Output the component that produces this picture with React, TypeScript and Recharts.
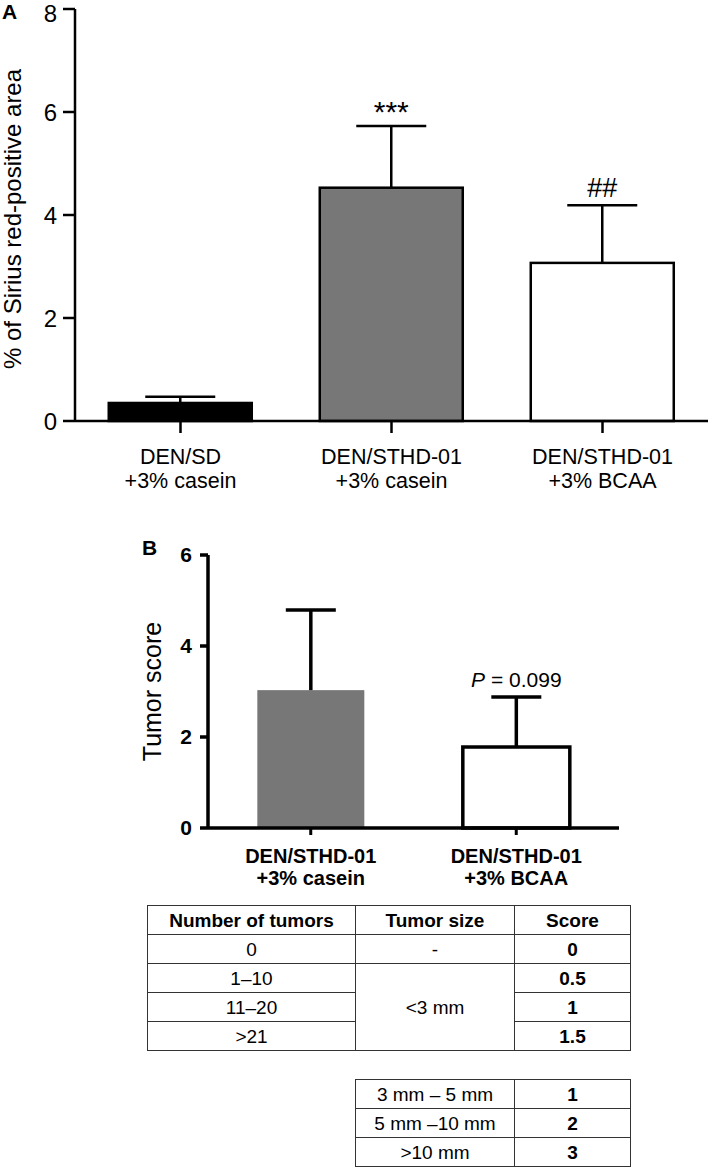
import { Bar, BarChart, XAxis, YAxis } from 'recharts';

const categoriesA = ['DEN/SD +3% casein', 'DEN/STHD-01 +3% casein', 'DEN/STHD-01 +3% BCAA'];
const meanA = [0.35, 4.53, 3.07];
const semA = [0.12, 1.2, 1.12];
const markA = ['', '***', '##'];
const ticksA = [0, 2, 4, 6, 8];

const categoriesB = ['DEN/STHD-01 +3% casein', 'DEN/STHD-01 +3% BCAA'];
const meanB = [3.03, 1.78];
const semB = [1.76, 1.1];
const markB = ['', 'P = 0.099'];
const ticksB = [0, 2, 4, 6];

const tableHead = ['Number of tumors', 'Tumor size', 'Score'];
const tumorCounts = ['0', '1–10', '11–20', '>21'];
const smallSizes = ['-', '<3 mm'];
const countScores = ['0', '0.5', '1', '1.5'];
const largeSizes = ['3 mm – 5 mm', '5 mm –10 mm', '>10 mm'];
const largeScores = ['1', '2', '3'];

const FONT = '"Liberation Sans", Arial, Helvetica, sans-serif';
const GREY = '#777777';

const dataA = categoriesA.map((name, i) => ({ name, mean: meanA[i], sem: semA[i], mark: markA[i] }));
const dataB = categoriesB.map((name, i) => ({ name, mean: meanB[i], sem: semB[i], mark: markB[i] }));

type ShapeOpts = {
  categories: string[];
  fills: string[];
  strokes: string[];
  lineWidth: number;
  capHalf: number;
  markSizes: number[];
  markGaps: number[];
};

function makeShape(o: ShapeOpts) {
  return (props: any) => {
    const { x, y, width, height, payload } = props;
    const i = o.categories.indexOf(payload.name);
    const perUnit = height / payload.mean;
    const errTop = y - payload.sem * perUnit;
    const cx = x + width / 2;
    const stroke = o.strokes[i];
    const mark: string = payload.mark;
    return (
      <g>
        <rect
          x={x}
          y={y}
          width={width}
          height={height}
          fill={o.fills[i]}
          stroke={stroke}
          strokeWidth={stroke === 'none' ? 0 : o.lineWidth}
        />
        <line x1={cx} x2={cx} y1={y} y2={errTop} stroke="#000" strokeWidth={o.lineWidth} />
        <line x1={cx - o.capHalf} x2={cx + o.capHalf} y1={errTop} y2={errTop} stroke="#000" strokeWidth={o.lineWidth} />
        {mark ? (
          <text
            x={cx}
            y={errTop - o.markGaps[i]}
            textAnchor="middle"
            fontSize={o.markSizes[i]}
            fontFamily={FONT}
            fill="#000"
          >
            {mark.startsWith('P') ? (
              <>
                <tspan fontStyle="italic">P</tspan>
                <tspan>{mark.slice(1)}</tspan>
              </>
            ) : (
              mark
            )}
          </text>
        ) : null}
      </g>
    );
  };
}

function TwoLineTick(props: any) {
  const { x, y, payload, size, weight, first, gap } = props;
  const parts = String(payload.value).split(' ');
  return (
    <text x={x} y={y} textAnchor="middle" fontSize={size} fontWeight={weight} fontFamily={FONT} fill="#000">
      <tspan x={x} dy={first}>{parts[0]}</tspan>
      <tspan x={x} dy={gap}>{parts.slice(1).join(' ')}</tspan>
    </text>
  );
}

const cell: React.CSSProperties = {
  border: '1.5px solid #333',
  height: 28,
  padding: 0,
  textAlign: 'center',
  verticalAlign: 'middle',
  fontSize: 19,
  lineHeight: '19px',
};

export default function App() {
  return (
    <div style={{ position: 'absolute', left: 0, top: 0, width: 709, height: 1167, background: '#fff', fontFamily: FONT }}>
      <div style={{ position: 'absolute', left: 2, top: 0, fontSize: 21, fontWeight: 700 }}>A</div>
      <div style={{ position: 'absolute', left: 142, top: 536, fontSize: 21, fontWeight: 700 }}>B</div>

      <div style={{ position: 'absolute', left: 0, top: 0 }}>
        <BarChart
          width={709}
          height={500}
          data={dataA}
          margin={{ top: 9, right: 1, left: 0, bottom: 0 }}
          barCategoryGap="16%"
        >
          <YAxis
            type="number"
            domain={[0, 8]}
            ticks={ticksA}
            width={75}
            tickSize={12}
            tickMargin={6}
            axisLine={{ stroke: '#000', strokeWidth: 2.5 }}
            tickLine={{ stroke: '#000', strokeWidth: 2.5 }}
            tick={{ fill: '#000', fontSize: 24, fontFamily: FONT }}
            label={{
              value: '% of Sirius red-positive area',
              angle: -90,
              position: 'center',
              dx: -25,
              dy: 4,
              style: { fill: '#000', fontSize: 24, fontFamily: FONT, textAnchor: 'middle' },
            }}
          />
          <XAxis
            dataKey="name"
            height={79}
            tickSize={12}
            tickMargin={0}
            interval={0}
            axisLine={{ stroke: '#000', strokeWidth: 2.5 }}
            tickLine={{ stroke: '#000', strokeWidth: 2.5 }}
            tick={<TwoLineTick size={21.5} weight={400} first={31} gap={23.5} />}
          />
          <Bar
            dataKey="mean"
            isAnimationActive={false}
            shape={makeShape({
              categories: categoriesA,
              fills: ['#000000', GREY, '#ffffff'],
              strokes: ['#000', '#000', '#000'],
              lineWidth: 2.5,
              capHalf: 35,
              markSizes: [24, 30, 27],
              markGaps: [8, 4, 8],
            })}
          />
        </BarChart>
      </div>

      <div style={{ position: 'absolute', left: 0, top: 530 }}>
        <BarChart
          width={620}
          height={370}
          data={dataB}
          margin={{ top: 25, right: 1, left: 0, bottom: 0 }}
          barCategoryGap="24%"
        >
          <YAxis
            type="number"
            domain={[0, 6]}
            ticks={ticksB}
            width={208}
            tickSize={8}
            tickMargin={8}
            axisLine={{ stroke: '#000', strokeWidth: 3.5 }}
            tickLine={{ stroke: '#000', strokeWidth: 3.5 }}
            tick={{ fill: '#000', fontSize: 21, fontWeight: 700, fontFamily: FONT }}
            label={{
              value: 'Tumor score',
              angle: -90,
              position: 'center',
              dx: 48,
              dy: 0,
              style: { fill: '#000', fontSize: 25, fontFamily: FONT, textAnchor: 'middle' },
            }}
          />
          <XAxis
            dataKey="name"
            height={72}
            tickSize={7}
            tickMargin={0}
            interval={0}
            axisLine={{ stroke: '#000', strokeWidth: 3.5 }}
            tickLine={{ stroke: '#000', strokeWidth: 3 }}
            tick={<TwoLineTick size={20} weight={700} first={28} gap={22} />}
          />
          <Bar
            dataKey="mean"
            isAnimationActive={false}
            shape={makeShape({
              categories: categoriesB,
              fills: [GREY, '#ffffff'],
              strokes: ['none', '#000'],
              lineWidth: 3.5,
              capHalf: 25,
              markSizes: [21, 21],
              markGaps: [10, 10],
            })}
          />
        </BarChart>
      </div>

      <table
        style={{
          position: 'absolute',
          left: 147,
          top: 905,
          borderCollapse: 'collapse',
          tableLayout: 'fixed',
          width: 483,
        }}
      >
        <colgroup>
          <col style={{ width: 208 }} />
          <col style={{ width: 159 }} />
          <col style={{ width: 116 }} />
        </colgroup>
        <tbody>
          <tr>
            {tableHead.map((h) => (
              <td key={h} style={{ ...cell, fontWeight: 700 }}>{h}</td>
            ))}
          </tr>
          {tumorCounts.map((count, i) => (
            <tr key={count}>
              <td style={cell}>{count}</td>
              {i === 0 ? <td style={cell}>{smallSizes[0]}</td> : null}
              {i === 1 ? <td style={cell} rowSpan={3}>{smallSizes[1]}</td> : null}
              <td style={{ ...cell, fontWeight: 700 }}>{countScores[i]}</td>
            </tr>
          ))}
        </tbody>
      </table>

      <table
        style={{
          position: 'absolute',
          left: 355,
          top: 1079,
          borderCollapse: 'collapse',
          tableLayout: 'fixed',
          width: 275,
        }}
      >
        <colgroup>
          <col style={{ width: 159 }} />
          <col style={{ width: 116 }} />
        </colgroup>
        <tbody>
          {largeSizes.map((size, i) => (
            <tr key={size}>
              <td style={cell}>{size}</td>
              <td style={{ ...cell, fontWeight: 700 }}>{largeScores[i]}</td>
            </tr>
          ))}
        </tbody>
      </table>
    </div>
  );
}
